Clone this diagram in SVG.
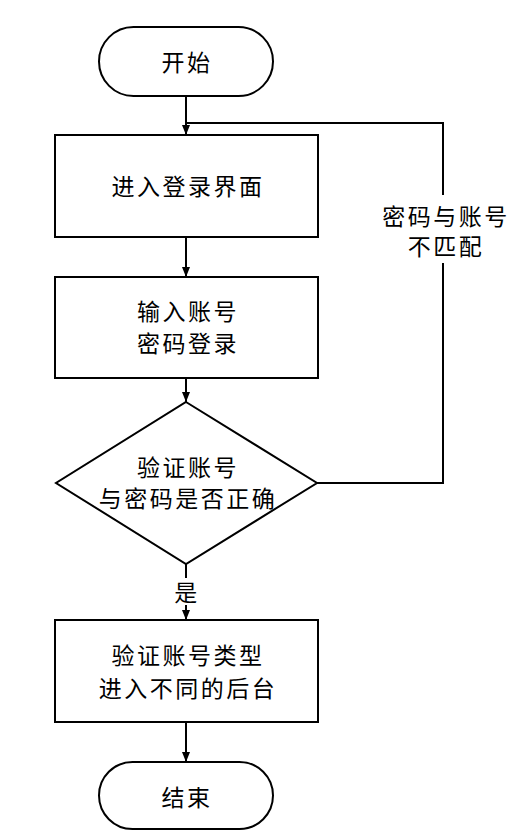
<svg xmlns="http://www.w3.org/2000/svg" width="518" height="836" viewBox="0 0 518 836">
<style>
.s{fill:#fff;stroke:#000;stroke-width:2}
.c{fill:none;stroke:#000;stroke-width:2}
text{font-family:"Noto Sans CJK SC","Noto Sans CJK JP",sans-serif;font-size:23px;fill:#000;text-anchor:middle;letter-spacing:2.5px}
</style>
<defs>
<marker id="a" markerWidth="10" markerHeight="8" refX="10" refY="4" orient="auto" markerUnits="userSpaceOnUse">
<path d="M0,0 L10,4 L0,8 Z" fill="#000"/>
</marker>
</defs>
<g id="connectors">
<line class="c" x1="186" y1="96" x2="186" y2="135" marker-end="url(#a)"/>
<line class="c" x1="186" y1="237" x2="186" y2="277" marker-end="url(#a)"/>
<line class="c" x1="186" y1="378" x2="186" y2="402" marker-end="url(#a)"/>
<line class="c" x1="186" y1="564" x2="186" y2="578"/>
<line class="c" x1="186" y1="605" x2="186" y2="620" marker-end="url(#a)"/>
<line class="c" x1="186" y1="722" x2="186" y2="762" marker-end="url(#a)"/>
<polyline class="c" points="317,483 443,483 443,123 186,123"/>
<text x="187" y="601">是</text>
<rect x="378" y="195" width="134" height="68" fill="#fff"/>
<text x="446" y="225">密码与账号</text>
<text x="446" y="255">不匹配</text>
</g>
<g id="start">
<rect class="s" x="99" y="27" width="174" height="69" rx="34.5"/>
<text x="187" y="71">开始</text>
</g>
<g id="login">
<rect class="s" x="55" y="135" width="263" height="102"/>
<text x="188" y="195">进入登录界面</text>
</g>
<g id="input">
<rect class="s" x="55" y="277" width="263" height="101"/>
<text x="188" y="320">输入账号</text>
<text x="188" y="352">密码登录</text>
</g>
<g id="check">
<polygon class="s" points="186,402 317,483 186,564 56,483"/>
<text x="188" y="476">验证账号</text>
<text x="188" y="507">与密码是否正确</text>
</g>
<g id="route">
<rect class="s" x="55" y="620" width="263" height="102"/>
<text x="188" y="664">验证账号类型</text>
<text x="188" y="697">进入不同的后台</text>
</g>
<g id="end">
<rect class="s" x="99" y="762" width="174" height="67" rx="33.5"/>
<text x="187" y="806">结束</text>
</g>
</svg>
